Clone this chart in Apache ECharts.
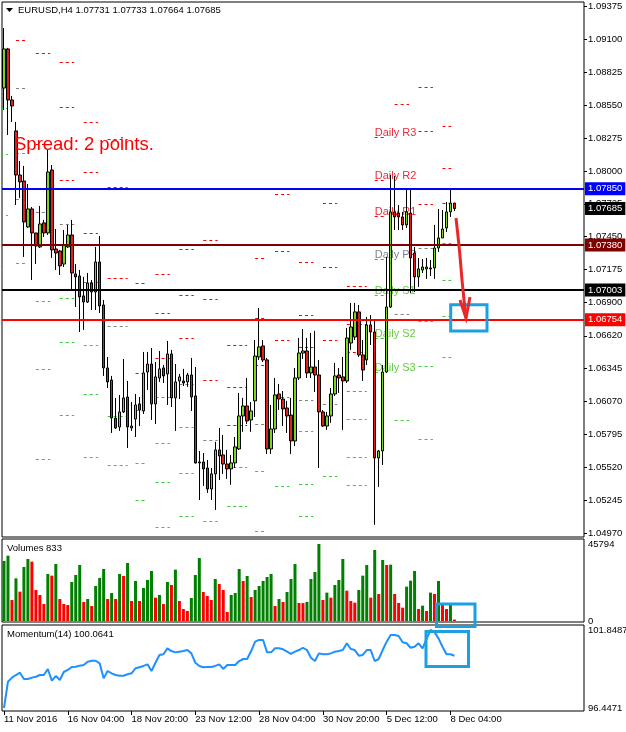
<!DOCTYPE html>
<html>
<head>
<meta charset="utf-8">
<script src="https://cdn.jsdelivr.net/npm/echarts@6/dist/echarts.min.js"></script>
<style>
html, body { margin: 0; padding: 0; background: #fff; }
#main { width: 626px; height: 732px; }
</style>
</head>
<body>
<div id="main"></div>
<script>
// EURUSD H4, 114 bars (11 Nov 2016 .. 8 Dec 2016 04:00)
var opens = [
  1.08694, 1.09021, 1.08594, 1.08335, 1.07966, 1.07916, 1.07531, 1.07682, 1.07481, 1.07364,
  1.07565, 1.07481, 1.08008, 1.07347, 1.07330, 1.07221, 1.07364, 1.07464, 1.07138, 1.07121,
  1.06954, 1.06903, 1.07062, 1.06987, 1.07238, 1.06878, 1.06351, 1.06250, 1.05932, 1.05857,
  1.05983, 1.06108, 1.05849, 1.05924, 1.06050, 1.05991, 1.06317, 1.06384, 1.06050, 1.06267,
  1.06351, 1.06301, 1.06468, 1.06100, 1.06242, 1.06242, 1.06234, 1.06292, 1.06117, 1.05564,
  1.05564, 1.05514, 1.05338, 1.05464, 1.05665, 1.05623, 1.05547, 1.05506, 1.05556, 1.05673,
  1.05949, 1.06033, 1.05916, 1.06075, 1.06443, 1.06535, 1.06418, 1.05673, 1.05840, 1.06133,
  1.06091, 1.06016, 1.05957, 1.05740, 1.06267, 1.06476, 1.06493, 1.06309, 1.06359, 1.06292,
  1.05983, 1.05865, 1.05949, 1.06133, 1.06292, 1.06276, 1.06242, 1.06560, 1.06610, 1.06820,
  1.06460, 1.06418, 1.06711, 1.06652, 1.05598, 1.05656, 1.06317, 1.06861, 1.07657, 1.07648,
  1.07615, 1.07548, 1.07648, 1.07313, 1.07113, 1.07171, 1.07180, 1.07188, 1.07188, 1.07355,
  1.07439, 1.07523, 1.07657, 1.07731
];
var closes = [
  1.09021, 1.08594, 1.08544, 1.07966, 1.07908, 1.07573, 1.07682, 1.07481, 1.07372, 1.07556,
  1.07481, 1.07991, 1.07339, 1.07313, 1.07205, 1.07380, 1.07464, 1.07146, 1.07113, 1.06945,
  1.06903, 1.07062, 1.06987, 1.07238, 1.06870, 1.06351, 1.06234, 1.05932, 1.05849, 1.05983,
  1.06100, 1.05857, 1.05865, 1.06041, 1.05999, 1.06309, 1.06384, 1.06050, 1.06276, 1.06343,
  1.06284, 1.06468, 1.06100, 1.06234, 1.06276, 1.06225, 1.06292, 1.06108, 1.05556, 1.05556,
  1.05506, 1.05338, 1.05464, 1.05665, 1.05614, 1.05547, 1.05506, 1.05556, 1.05690, 1.05949,
  1.06033, 1.05907, 1.05991, 1.06451, 1.06527, 1.06418, 1.05673, 1.05840, 1.06125, 1.06091,
  1.06008, 1.05949, 1.05740, 1.06267, 1.06476, 1.06493, 1.06309, 1.06359, 1.06292, 1.05983,
  1.05865, 1.05949, 1.06133, 1.06284, 1.06267, 1.06242, 1.06602, 1.06694, 1.06820, 1.06460,
  1.06334, 1.06711, 1.06652, 1.05598, 1.05656, 1.06317, 1.06861, 1.07657, 1.07615, 1.07615,
  1.07548, 1.07657, 1.07272, 1.07113, 1.07180, 1.07196, 1.07196, 1.07180, 1.07355, 1.07439,
  1.07514, 1.07657, 1.07732, 1.07685
];
var lows = [
  1.08510, 1.08301, 1.08410, 1.07715, 1.07774, 1.07280, 1.07523, 1.07087, 1.07221, 1.07355,
  1.07447, 1.07464, 1.07272, 1.07171, 1.07129, 1.07196, 1.07355, 1.07004, 1.06861, 1.06652,
  1.06669, 1.06895, 1.06836, 1.06836, 1.06811, 1.06284, 1.06183, 1.05807, 1.05840, 1.05824,
  1.05974, 1.05681, 1.05824, 1.05773, 1.05865, 1.05966, 1.06167, 1.05916, 1.05882, 1.06234,
  1.06225, 1.06041, 1.06024, 1.05824, 1.06091, 1.06200, 1.06192, 1.05991, 1.05550, 1.05246,
  1.05363, 1.05305, 1.05246, 1.05162, 1.05413, 1.05464, 1.05422, 1.05372, 1.05514, 1.05665,
  1.05816, 1.05882, 1.05816, 1.05941, 1.06418, 1.06401, 1.05631, 1.05631, 1.05807, 1.05999,
  1.05865, 1.05807, 1.05631, 1.05698, 1.06250, 1.06426, 1.06267, 1.06267, 1.06150, 1.05514,
  1.05857, 1.05832, 1.05891, 1.06117, 1.06142, 1.05832, 1.06225, 1.06502, 1.06585, 1.06443,
  1.06242, 1.06376, 1.06543, 1.05037, 1.05355, 1.05539, 1.06309, 1.06853, 1.07506, 1.07506,
  1.07506, 1.07523, 1.06979, 1.06987, 1.07029, 1.07146, 1.07096, 1.07121, 1.07096, 1.07322,
  1.07439, 1.07489, 1.07615, 1.07664
];
var highs = [
  1.09197, 1.09030, 1.08628, 1.08410, 1.08083, 1.08042, 1.07891, 1.07698, 1.07481, 1.07707,
  1.07590, 1.08176, 1.08050, 1.07514, 1.07339, 1.07506, 1.07548, 1.07590, 1.07221, 1.07171,
  1.07113, 1.07146, 1.07087, 1.07364, 1.07456, 1.06920, 1.06443, 1.06284, 1.06100, 1.06125,
  1.06426, 1.06242, 1.06066, 1.06133, 1.06108, 1.06485, 1.06485, 1.06518, 1.06401, 1.06493,
  1.06376, 1.06577, 1.06502, 1.06384, 1.06301, 1.06343, 1.06309, 1.06435, 1.06359, 1.05656,
  1.05639, 1.05581, 1.05514, 1.05732, 1.05849, 1.05790, 1.05665, 1.05623, 1.05773, 1.06142,
  1.06100, 1.06267, 1.06066, 1.06585, 1.06853, 1.06585, 1.06435, 1.06041, 1.06267, 1.06217,
  1.06158, 1.06075, 1.06100, 1.06351, 1.06602, 1.06677, 1.06602, 1.06644, 1.06661, 1.06418,
  1.05999, 1.05983, 1.06183, 1.06393, 1.06351, 1.06443, 1.06686, 1.06895, 1.06895, 1.06878,
  1.06585, 1.06778, 1.06794, 1.06753, 1.05665, 1.06376, 1.07280, 1.07966, 1.07958, 1.07715,
  1.07657, 1.07841, 1.07857, 1.07364, 1.07272, 1.07263, 1.07272, 1.07255, 1.07548, 1.07682,
  1.07673, 1.07740, 1.07841, 1.07733
];
var volumes = [
  35700, 38870, 12490, 25380, 17450, 32130, 36890, 35300, 18440, 15470,
  10110, 27960, 26970, 33910, 13090, 10110, 9520, 23200, 27370, 33320,
  11300, 13090, 8920, 20820, 25580, 30940, 13090, 16660, 13090, 27960,
  26770, 34500, 11900, 23800, 11900, 19630, 24390, 29750, 13880, 15470,
  10110, 23200, 21420, 30540, 11900, 7140, 5950, 13680, 27370, 37480,
  17250, 14870, 12490, 24990, 22010, 18440, 5350, 15470, 16660, 30940,
  23800, 26770, 14280, 18440, 20820, 23800, 26180, 27960, 8920, 13090,
  11300, 17250, 24990, 33910, 10710, 10650, 11300, 24990, 29150, 45794,
  12490, 16860, 13880, 21420, 24390, 36890, 18050, 11900, 10910, 18440,
  26970, 33320, 13880, 42240, 16060, 36290, 33320, 33510, 16060, 10710,
  7930, 20430, 23990, 29750, 7140, 9120, 5950, 16860, 16060, 23800,
  9920, 7140, 9520, 833
];
var momentum = [
  96.4471, 98.27, 98.55, 98.73, 98.89, 98.46, 98.46, 98.55, 98.61, 98.73,
  98.73, 99.15, 98.34, 98.66, 98.39, 98.94, 99.08, 99.29, 99.31, 99.38,
  99.42, 99.65, 99.72, 99.72, 99.54, 98.50, 99.01, 98.85, 98.73, 98.68,
  98.68, 98.78, 98.85, 99.20, 99.27, 99.36, 99.47, 99.01, 99.58, 100.12,
  100.17, 100.58, 100.39, 100.30, 100.35, 100.39, 100.46, 100.23, 99.58, 99.36,
  99.27, 99.29, 99.29, 99.36, 99.47, 99.15, 99.42, 99.42, 99.42, 99.70,
  99.84, 99.84, 100.39, 101.04, 101.16, 101.16, 100.30, 100.30, 100.58, 100.58,
  100.51, 100.35, 100.19, 100.35, 100.46, 100.62, 100.46, 99.93, 99.70, 100.23,
  100.17, 100.17, 100.23, 100.35, 100.39, 100.46, 100.93, 100.53, 100.46, 100.07,
  100.12, 100.46, 100.46, 99.70, 99.84, 100.46, 101.04, 101.50, 101.50, 101.43,
  101.00, 100.93, 100.62, 100.69, 100.93, 100.58, 101.23, 101.8487, 101.70, 101.27,
  100.69, 100.17, 100.17, 100.0641
];

// daily pivot levels, one entry per trading day (11 Nov .. 8 Dec)
var pivR3 = [null, null, null, 1.08912, 1.08410, 1.08268, 1.07062, 1.07138, 1.07347, 1.07422,
  1.06543, 1.07272, 1.07807, 1.07238, 1.07732, 1.07037, 1.08284, null, 1.08703, 1.08376];
var pivR2 = [null, null, 1.08987, 1.08535, 1.07991, 1.07866, 1.06753, 1.06811, 1.06962, 1.06928,
  1.06192, 1.06769, 1.07330, 1.06794, 1.07196, 1.06719, 1.07924, null, 1.08335, 1.08025];
var pivR1 = [null, 1.09096, 1.08226, 1.07924, 1.07481, 1.07104, 1.06309, 1.06435, 1.06602, 1.06250,
  1.05874, 1.06376, 1.06585, 1.06527, 1.06585, 1.06485, 1.07623, 1.08561, 1.07724, 1.07732];
var pivPP = [null, 1.08694, 1.07657, 1.07556, 1.07071, 1.06702, 1.05999, 1.06108, 1.06217, 1.05748,
  1.05522, 1.05882, 1.06108, 1.06083, 1.06050, 1.06158, 1.07263, 1.06803, 1.07355, 1.07397];
var pivS1 = [1.08527, 1.08150, 1.06912, 1.06937, 1.06543, 1.05949, 1.05556, 1.05723, 1.05857, 1.05070,
  1.05196, 1.05489, 1.05363, 1.05824, 1.05447, 1.05924, 1.06962, 1.05916, 1.06744, 1.07087];
var pivS2 = [1.08142, 1.07765, 1.06343, 1.06568, 1.06133, 1.05539, 1.05246, 1.05397, 1.05472, null,
  null, 1.04987, null, 1.05380, null, 1.05606, 1.06602, null, 1.06368, 1.06786];
var pivS3 = [1.07631, 1.07230, 1.05589, 1.05957, 1.05606, null, null, 1.05020, 1.05112, null,
  null, null, null, 1.05112, null, 1.05372, 1.06317, null, 1.05757, 1.06443];
var pivotLabelDay = 16;

var priceTicks = [1.09375, 1.091, 1.08825, 1.0855, 1.08275, 1.08, 1.07725, 1.0745, 1.07175,
  1.069, 1.0662, 1.06345, 1.0607, 1.05795, 1.0552, 1.05245, 1.0497];
var tickLabels = ["11 Nov 2016", "16 Nov 04:00", "18 Nov 20:00", "23 Nov 12:00",
  "28 Nov 04:00", "30 Nov 20:00", "5 Dec 12:00", "8 Dec 04:00"];

var FONT = '"Liberation Sans", Arial, sans-serif';
var SLOTS = 146;   // visible bar slots on screen
var cats = [];
for (var i = 0; i < SLOTS; i++) cats.push(String(i));

var candles = opens.map(function (o, i) { return [o, closes[i], lows[i], highs[i]]; });
var volBars = volumes.map(function (v, i) {
  var up = i === 0 || v > volumes[i - 1];
  return { value: v, itemStyle: { color: up ? "#008000" : "#FF0000" } };
});

var pivotSets = [
  ["R3", pivR3, "#FF0000", "#EE2A3A"],
  ["R2", pivR2, "#FF0000", "#EE2A3A"],
  ["R1", pivR1, "#FF0000", "#EE2A3A"],
  ["PP", pivPP, "#808080", "#7A8491"],
  ["S1", pivS1, "#33CC33", "#66CC44"],
  ["S2", pivS2, "#33CC33", "#66CC44"],
  ["S3", pivS3, "#33CC33", "#66CC44"]
];
var pivotData = [];
pivotSets.forEach(function (set, li) {
  set[1].forEach(function (v, j) { if (v != null) pivotData.push([j, v, li]); });
});

function renderPivot(params, api) {
  var j = api.value(0), v = api.value(1), li = api.value(2);
  var p0 = api.coord([0, v]);
  var band = api.coord([1, v])[0] - p0[0];
  var s = p0[0] + (6 * j - 3) * band; // first H4 bar of that day
  var a = s - band, b = s + 2.6 * band;
  if (j % 5 === 1) { a = s; b = s + 2.3 * band; }      // mondays
  else if (j % 5 === 0) { b = s + 4 * band; }          // fridays
  if (j === pivR1.length - 1) b = s + 1.2 * band;      // today
  var y = Math.round(p0[1]) + 0.5;
  var set = pivotSets[li];
  var kids = [{
    type: "line",
    shape: { x1: a, y1: y, x2: b, y2: y },
    style: { stroke: set[2], lineWidth: 1, lineDash: [3, 3] }
  }];
  if (j === pivotLabelDay) {
    kids.push({
      type: "text",
      style: { x: s, y: y + 1, text: "Daily " + set[0], fill: set[3], font: "11px " + FONT, verticalAlign: "bottom" }
    });
  }
  return { type: "group", children: kids };
}

function showTick(idx) { return idx % 16 === 0 && idx / 16 < tickLabels.length; }

function hline(v, c, hidden) {
  return {
    yAxis: v,
    lineStyle: { color: hidden ? "rgba(0,0,0,0)" : c, width: 2, type: "solid" },
    label: { backgroundColor: c }
  };
}

var chart = echarts.init(document.getElementById("main"));
var option = {
  animation: false,
  backgroundColor: "#fff",
  grid: [
    { left: 2, top: 2, width: 582, height: 535, show: true, borderColor: "#000", borderWidth: 1, outerBoundsMode: "none", containLabel: false },
    { left: 2, top: 539, width: 582, height: 83, show: true, borderColor: "#000", borderWidth: 1, outerBoundsMode: "none", containLabel: false },
    { left: 2, top: 625, width: 582, height: 86, show: true, borderColor: "#000", borderWidth: 1, outerBoundsMode: "none", containLabel: false }
  ],
  xAxis: [0, 1, 2].map(function (g) {
    return {
      type: "category", gridIndex: g, data: cats, boundaryGap: true,
      axisLine: { show: false },
      axisTick: g === 2 ? { show: true, alignWithLabel: true, interval: showTick, length: 4, lineStyle: { color: "#000" } } : { show: false },
      axisLabel: g === 2 ? {
        show: true, interval: showTick, align: "left", margin: 3, color: "#000",
        fontSize: 9.5, fontFamily: FONT,
        formatter: function (val, idx) { return tickLabels[Math.round(idx / 16)]; }
      } : { show: false },
      splitLine: { show: false }
    };
  }),
  yAxis: [
    {
      type: "value", gridIndex: 0, position: "right", min: 1.04936, max: 1.09414,
      splitLine: { show: false },
      axisLine: { show: false },
      axisTick: { show: true, length: 3, lineStyle: { color: "#000" }, customValues: priceTicks },
      axisLabel: {
        color: "#000", fontSize: 9.5, fontFamily: FONT, margin: 4, customValues: priceTicks,
        formatter: function (v) { return v.toFixed(5); }
      }
    },
    {
      type: "value", gridIndex: 1, position: "right", min: -595, max: 48768,
      splitLine: { show: false }, axisLine: { show: false }, axisTick: { show: false },
      axisLabel: {
        color: "#000", fontSize: 9.5, fontFamily: FONT, margin: 4, customValues: [0, 45794],
        formatter: function (v) { return String(Math.round(v)); }
      }
    },
    {
      type: "value", gridIndex: 2, position: "right", min: 96.2394, max: 102.195,
      splitLine: { show: false }, axisLine: { show: false }, axisTick: { show: false },
      axisLabel: {
        color: "#000", fontSize: 9.5, fontFamily: FONT, margin: 4, customValues: [96.4471, 101.8487],
        formatter: function (v) { return v.toFixed(4); }
      }
    }
  ],
  series: [
    {
      type: "custom", name: "pivots", xAxisIndex: 0, yAxisIndex: 0, z: 1,
      renderItem: renderPivot, data: pivotData, clip: true, silent: true
    },
    {
      type: "candlestick", name: "EURUSD", xAxisIndex: 0, yAxisIndex: 0, z: 2,
      barWidth: 3, data: candles,
      itemStyle: { color: "#7CD61E", color0: "#E0201E", borderColor: "#000", borderColor0: "#000", borderWidth: 1 },
      markLine: {
        silent: true, symbol: "none", z: 5, precision: 5,
        label: {
          show: true, position: "end", distance: 1, color: "#fff",
          fontSize: 9.5, fontFamily: FONT, padding: [2, 3, 1, 3],
          formatter: function (p) { return Number(p.value).toFixed(5); }
        },
        data: [
          hline(1.07850, "#0000FF"),
          hline(1.07685, "#000000", true),
          hline(1.07380, "#800000"),
          hline(1.07003, "#000000"),
          hline(1.06754, "#FF0000")
        ]
      }
    },
    {
      type: "bar", name: "Volumes", xAxisIndex: 1, yAxisIndex: 1, barWidth: 3,
      data: volBars
    },
    {
      type: "line", name: "Momentum", xAxisIndex: 2, yAxisIndex: 2, showSymbol: false,
      data: momentum, lineStyle: { color: "#1E90FF", width: 2 }, itemStyle: { color: "#1E90FF" }
    }
  ],
  graphic: [
    { type: "polygon", z: 100, shape: { points: [[6, 8], [13, 8], [9.5, 12]] }, style: { fill: "#000" } },
    { type: "text", z: 100, style: { x: 18, y: 10, text: "EURUSD,H4 1.07731 1.07733 1.07664 1.07685", font: "9.5px " + FONT, fill: "#000", verticalAlign: "middle" } },
    { type: "text", z: 100, style: { x: 14, y: 145, text: "Spread: 2 points.", font: "18.5px " + FONT, fill: "#FF0000", verticalAlign: "middle" } },
    { type: "text", z: 100, style: { x: 7, y: 548, text: "Volumes 833", font: "9.5px " + FONT, fill: "#000", verticalAlign: "middle" } },
    { type: "text", z: 100, style: { x: 7, y: 634, text: "Momentum(14) 100.0641", font: "9.5px " + FONT, fill: "#000", verticalAlign: "middle" } },
    // hand drawn annotations
    { type: "rect", z: 100, shape: { x: 450.7, y: 304.7, width: 36.3, height: 26.3 }, style: { fill: null, stroke: "#1BA0E2", lineWidth: 3 } },
    { type: "rect", z: 100, shape: { x: 436.5, y: 604, width: 38.5, height: 22.5 }, style: { fill: null, stroke: "#1BA0E2", lineWidth: 3 } },
    { type: "rect", z: 100, shape: { x: 426, y: 631.5, width: 42.5, height: 35 }, style: { fill: null, stroke: "#1BA0E2", lineWidth: 3 } },
    { type: "polyline", z: 100, shape: { points: [[456, 218], [458, 236], [460, 256], [462, 280], [464, 300], [466, 318]] }, style: { stroke: "#E82828", lineWidth: 3, fill: null } },
    { type: "polyline", z: 100, shape: { points: [[460, 300], [466, 318], [470, 297]] }, style: { stroke: "#E82828", lineWidth: 3, fill: null } }
  ]
};
chart.setOption(option);
</script>
</body>
</html>
